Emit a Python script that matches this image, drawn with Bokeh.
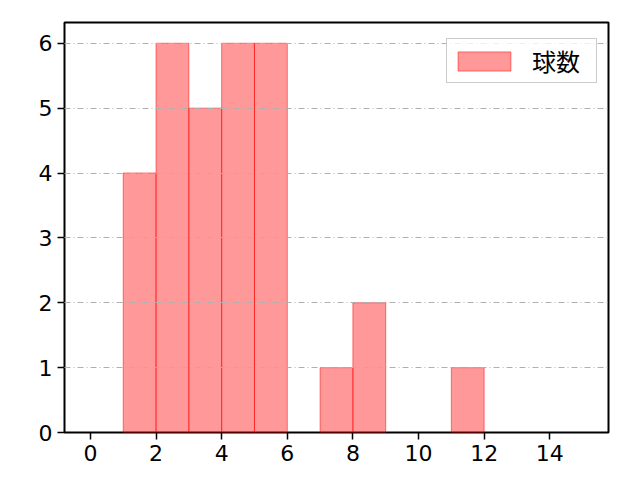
from bokeh.plotting import figure
from bokeh.embed import file_html
from bokeh.resources import INLINE
from bokeh.models import Range1d, FixedTicker, ColumnDataSource

left_edges = [1, 2, 3, 4, 5, 7, 8, 11]
right_edges = [2, 3, 4, 5, 6, 8, 9, 12]
counts = [4, 6, 5, 6, 6, 1, 2, 1]
x_ticks = [0, 2, 4, 6, 8, 10, 12, 14]
y_ticks = [0, 1, 2, 3, 4, 5, 6]

FONT = "Noto Sans CJK JP"
TICK_FONT = "DejaVu Sans"

p = figure(width=624, height=464, output_backend="svg", toolbar_location=None,
           x_range=Range1d(-0.79, 15.79), y_range=Range1d(0, 6.32),
           min_border_left=64, min_border_right=16, min_border_top=22, min_border_bottom=32)

src = ColumnDataSource(dict(left=left_edges, right=right_edges, top=counts, bottom=[0]*len(counts)))
p.quad(left="left", right="right", top="top", bottom="bottom", source=src,
       fill_color="#ff0000", fill_alpha=0.4, line_color="#ff0000", line_alpha=0.5,
       line_width=1, legend_label="球数")

p.xaxis.ticker = FixedTicker(ticks=x_ticks)
p.yaxis.ticker = FixedTicker(ticks=y_ticks)
for ax in [p.xaxis[0], p.yaxis[0]]:
    ax.major_label_text_font = TICK_FONT
    ax.major_label_text_font_size = "22px"
    ax.major_label_text_color = "black"
    ax.axis_line_color = None
    ax.major_tick_line_color = "black"
    ax.major_tick_line_width = 1.5
    ax.major_tick_out = 7
    ax.major_tick_in = 0
    ax.major_label_standoff = 5
    ax.minor_tick_line_color = None

p.xgrid.grid_line_color = None
p.ygrid.grid_line_color = "#b0b0b0"
p.ygrid.grid_line_dash = "6 3 1 3"
p.ygrid.grid_line_width = 1
p.ygrid.level = "overlay"

p.outline_line_color = "black"
p.outline_line_width = 2
p.background_fill_color = "white"
p.border_fill_color = "white"

p.legend.location = (382, 349)
p.legend.margin = 0
p.legend.label_text_font = FONT
p.legend.label_text_font_size = "24px"
p.legend.label_text_color = "black"
p.legend.border_line_color = "#cccccc"
p.legend.border_line_alpha = 1
p.legend.border_line_width = 1
p.legend.background_fill_alpha = 0.8
p.legend.glyph_width = 66
p.legend.glyph_height = 24
p.legend.label_height = 28
p.legend.label_width = 60
p.legend.label_standoff = 15
p.legend.padding = 4
p.legend.spacing = 0

open("out.html", "w").write(file_html(p, INLINE))
